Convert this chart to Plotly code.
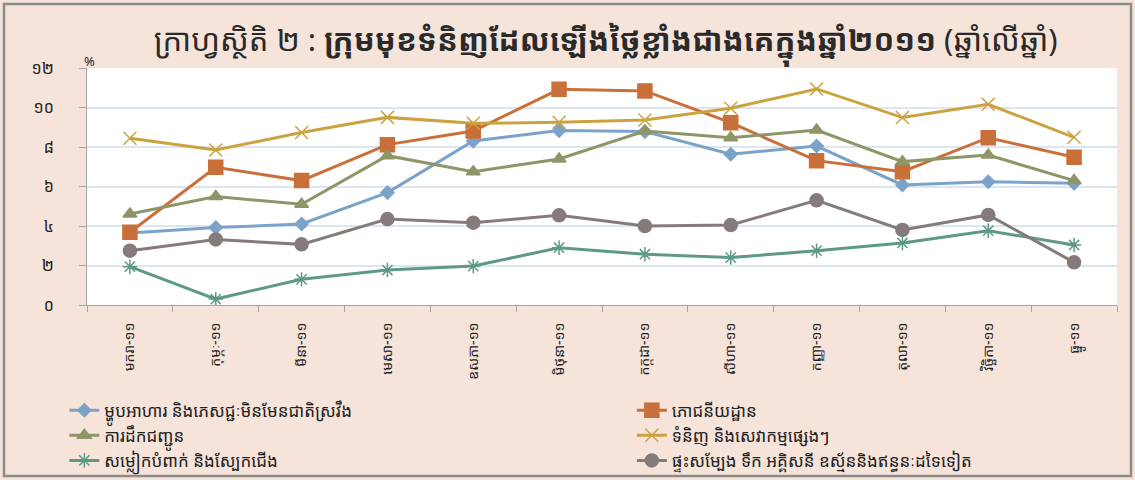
import plotly.graph_objects as go

months = ["មករា-១១", "កុម្ភៈ-១១", "មីនា-១១", "មេសា-១១", "ឧសភា-១១", "មិថុនា-១១",
          "កក្កដា-១១", "សីហា-១១", "កញ្ញា-១១", "តុលា-១១", "វិច្ឆិកា-១១", "ធ្នូ-១១"]

food = [3.65, 3.92, 4.10, 5.69, 8.30, 8.83, 8.78, 7.63, 8.05, 6.08, 6.24, 6.16]
restaurants = [3.68, 6.97, 6.30, 8.12, 8.81, 10.92, 10.84, 9.23, 7.31, 6.75, 8.47, 7.48]
transport = [4.61, 5.49, 5.10, 7.56, 6.75, 7.39, 8.81, 8.47, 8.86, 7.26, 7.59, 6.30]
misc = [8.44, 7.85, 8.73, 9.50, 9.20, 9.25, 9.37, 9.96, 10.94, 9.49, 10.16, 8.49]
clothing = [1.94, 0.30, 1.30, 1.77, 1.97, 2.90, 2.57, 2.40, 2.75, 3.14, 3.76, 3.04]
housing = [2.75, 3.32, 3.07, 4.35, 4.17, 4.54, 4.00, 4.05, 5.30, 3.80, 4.56, 2.16]

names = ["ម្ហូបអាហារ និងភេសជ្ជៈមិនមែនជាតិស្រវឹង",
         "ភោជនីយដ្ឋាន",
         "ការដឹកជញ្ជូន",
         "ទំនិញ និងសេវាកម្មផ្សេងៗ",
         "សម្លៀកបំពាក់ និងស្បែកជើង",
         "ផ្ទះសម្បែង ទឹក អគ្គិសនី ឧស្ម័ននិងឥន្ធនៈដទៃទៀត"]

y_tick_vals = [0, 2, 4, 6, 8, 10, 12]
y_tick_text = ["០", "២", "៤", "៦", "៨", "១០", "១២"]

title_main = "ក្រាហ្វស្ថិតិ ២ : "
title_bold = "ក្រុមមុខទំនិញដែលឡើងថ្លៃខ្លាំងជាងគេក្នុងឆ្នាំ២០១១"
title_tail = " (ឆ្នាំលើឆ្នាំ)"

series = [food, restaurants, transport, misc, clothing, housing]
colors = ["#7BA3C9", "#C96F3A", "#8E9668", "#CBA23E", "#5E9986", "#857B7B"]
symbols = ["diamond", "square", "triangle-up", "x-thin-open", "asterisk-open", "circle"]
sizes = [10, 14, 12, 13, 12, 13]
legend_ids = ["legend", "legend2", "legend", "legend2", "legend", "legend2"]

KH = "Noto Sans Khmer, Khmer OS, Khmer OS System, DejaVu Sans, sans-serif"

fig = go.Figure()
for vals, name, c, s, sz, lg in zip(series, names, colors, symbols, sizes, legend_ids):
    fig.add_trace(go.Scatter(
        x=months, y=vals, name=name, mode="lines+markers",
        line=dict(color=c, width=3),
        marker=dict(symbol=s, size=sz, color=c, line=dict(color=c, width=1.5)),
        legend=lg,
    ))

legend_common = dict(
    orientation="v", yanchor="top", xanchor="left",
    font=dict(size=17, family=KH, color="#222222"),
    bgcolor="rgba(0,0,0,0)", tracegroupgap=0, itemwidth=30,
)

fig.update_layout(
    width=1135, height=480,
    paper_bgcolor="#F6E4DA",
    plot_bgcolor="#FFFFFF",
    margin=dict(l=87, r=18, t=68, b=175, autoexpand=False),
    font=dict(family=KH, color="#222222", size=13),
    title=dict(
        text=title_main + "<b>" + title_bold + "</b>" + title_tail,
        x=0.5336, xanchor="center", y=0.917, yanchor="middle",
        font=dict(size=31, family=KH, color="#2a2a2a"),
    ),
    showlegend=True,
    legend=dict(x=-0.022, y=-0.37, **legend_common),
    legend2=dict(x=0.529, y=-0.37, **legend_common),
    xaxis=dict(
        type="category", range=[-0.5, 11.5], automargin=False,
        showgrid=False, showline=True, linecolor="#A6A6A6", linewidth=1,
        ticks="outside", tickcolor="#A6A6A6", ticklen=6, tickson="boundaries",
        tickangle=-90, tickfont=dict(size=14, family=KH), ticklabelstandoff=11,
    ),
    yaxis=dict(
        range=[0, 12], tickvals=y_tick_vals, ticktext=y_tick_text, automargin=False,
        showgrid=True, gridcolor="#DCE6F0", gridwidth=1.5,
        showline=True, linecolor="#A6A6A6", linewidth=1,
        ticks="outside", tickcolor="#A6A6A6", ticklen=7, ticklabelstandoff=22,
        tickfont=dict(size=16, family=KH), zeroline=False,
    ),
    shapes=[dict(type="rect", xref="paper", yref="paper", x0=-0.0806, x1=1.0136,
                 y0=-0.7215, y1=1.270, line=dict(color="#8C8C8C", width=2.5),
                 fillcolor="rgba(0,0,0,0)", layer="below")],
    annotations=[dict(text="%", xref="paper", yref="paper", x=0.002, y=1.0295,
                      xanchor="center", yanchor="middle", showarrow=False,
                      font=dict(size=13, family=KH))],
)

fig.write_html("out.html", config={"displayModeBar": False},
               post_script="document.body.style.margin='0px';")
